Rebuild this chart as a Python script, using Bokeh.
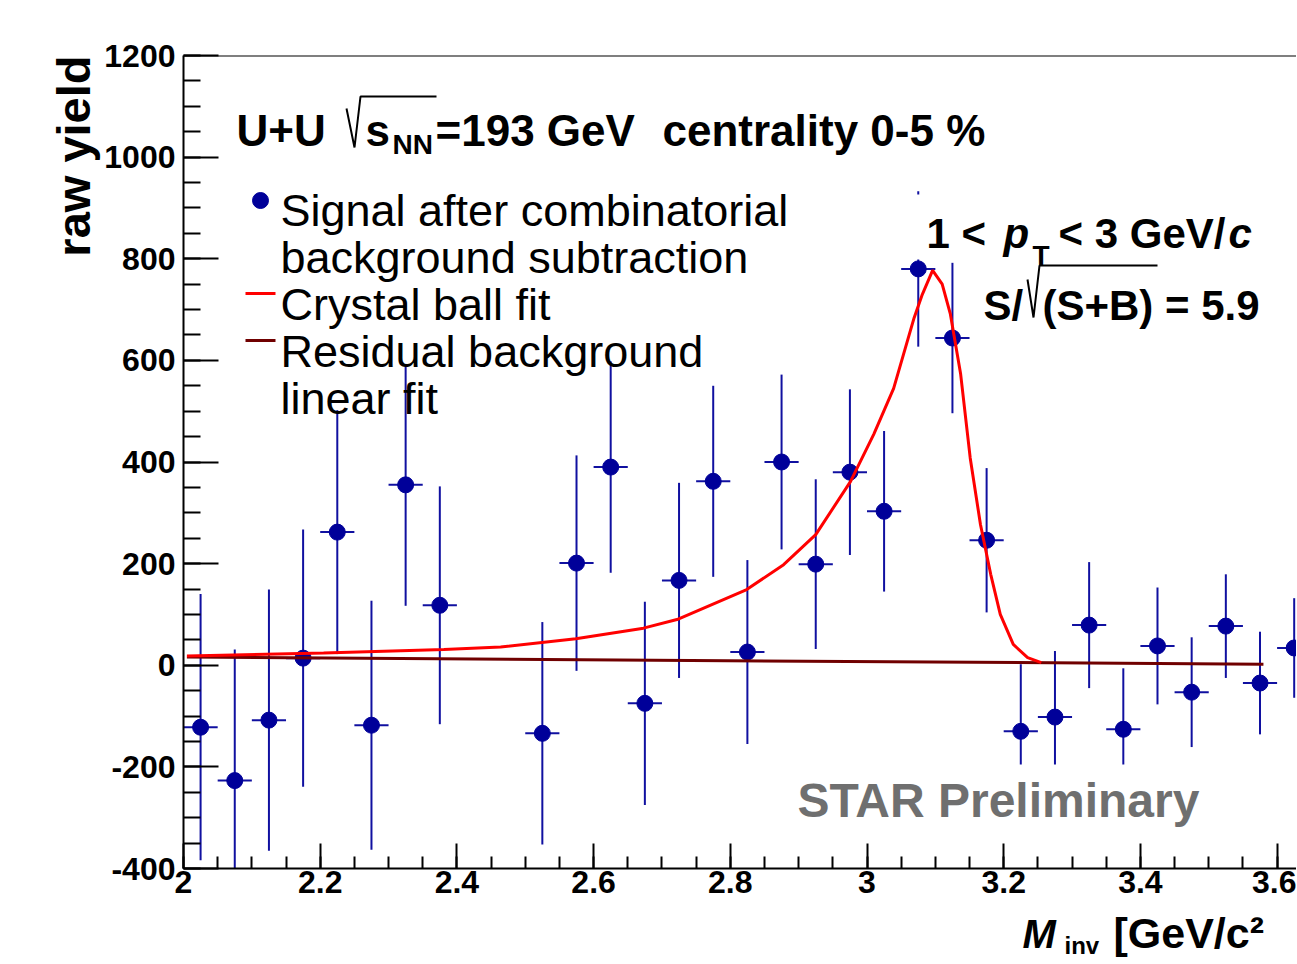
import math
from bokeh.plotting import figure
from bokeh.models import (Label, Span, BoxAnnotation, PolyAnnotation,
                          SingleIntervalTicker, NumeralTickFormatter,
                          ColumnDataSource, Title)
from bokeh.embed import file_html
from bokeh.resources import INLINE

# ---------------- data ----------------
mass = [2.025, 2.075, 2.125, 2.175, 2.225, 2.275, 2.325, 2.375, 2.525, 2.575,
        2.625, 2.675, 2.725, 2.775, 2.825, 2.875, 2.925, 2.975, 3.025, 3.075,
        3.125, 3.175, 3.225, 3.275, 3.325, 3.375, 3.425, 3.475, 3.525, 3.575,
        3.625]
raw_yield = [-122, -227, -108, 14, 262, -118, 355, 118, -134, 201,
             390, -75, 167, 362, 26, 400, 199, 380, 303, 780,
             644, 246, -130, -102, 79, -126, 38, -53, 77, -35,
             34]
yield_err = [262, 258, 257, 253, 240, 245, 238, 234, 219, 212,
             208, 200, 192, 188, 181, 172, 167, 163, 158, 153,
             148, 142, 132, 130, 124, 120, 115, 108, 102, 101,
             98]
bin_half_width = 0.025

cb_fit_mass = [2.005, 2.205, 2.381, 2.464, 2.574, 2.673, 2.722, 2.824, 2.878,
               2.925, 2.976, 3.010, 3.039, 3.069, 3.081, 3.096, 3.110, 3.122,
               3.137, 3.151, 3.166, 3.181, 3.195, 3.214, 3.235, 3.255]
cb_fit_yield = [18, 24, 31, 36, 52, 73, 90, 149, 198,
                257, 362, 455, 545, 684, 730, 777, 750, 691,
                573, 408, 277, 179, 100, 41, 15, 5]

bkg_fit_mass = [2.005, 3.58]
bkg_fit_yield = [16, 2]

x_tick_step = 0.2
y_tick_step = 200

# ---------------- layout ----------------
W, H = 1296, 963
Y0, Y1 = -400, 1200
X0 = 2.0
BL, BR, BT = 183, 0, 55
FRAME_BOTTOM = 868
BB = H - FRAME_BOTTOM
PX_PER_UNIT = 683.5
X1 = X0 + (W - BR - BL) / PX_PER_UNIT
FL, FR = BL, W - BR
FT, FB = BT, FRAME_BOTTOM


def dx(px):
    return X0 + (px - FL) / (FR - FL) * (X1 - X0)


def dy(py):
    return Y1 - (py - FT) / (FB - FT) * (Y1 - Y0)


p = figure(width=W, height=H, x_range=(X0, X1), y_range=(Y0, Y1),
           output_backend="svg", toolbar_location=None,
           min_border_left=BL, min_border_right=BR,
           min_border_top=BT, min_border_bottom=BB,
           outline_line_color=None, background_fill_color="white",
           border_fill_color="white")
p.grid.visible = False

FONT = "Liberation Sans"
for ax in (p.xaxis[0], p.yaxis[0]):
    ax.axis_line_width = 2
    ax.axis_line_color = "black"
    ax.major_tick_line_width = 2
    ax.minor_tick_line_width = 2
    ax.major_tick_out = 0
    ax.minor_tick_out = 0
    ax.major_label_text_font = FONT
    ax.major_label_text_font_style = "bold"
    ax.major_label_text_font_size = "32px"
    ax.major_label_text_color = "black"

xa = p.xaxis[0]
xa.ticker = SingleIntervalTicker(interval=x_tick_step, num_minor_ticks=4)
xa.formatter = NumeralTickFormatter(format="0.[0]")
xa.major_tick_in = 25
xa.minor_tick_in = 12
xa.major_label_standoff = 2

ya = p.yaxis[0]
ya.ticker = SingleIntervalTicker(interval=y_tick_step, num_minor_ticks=4)
ya.formatter = NumeralTickFormatter(format="0")
ya.major_tick_in = 35
ya.minor_tick_in = 17
ya.major_label_standoff = 8

p.add_layout(Span(location=Y1, dimension="width", line_color="black",
                  line_width=2, line_alpha=1.0))

# y axis title
p.add_layout(Title(text="raw yield", align="right", text_font=FONT,
                   text_font_size="47px", text_font_style="bold",
                   text_color="black", standoff=4), "left")

# ---------------- data glyphs ----------------
src = ColumnDataSource(dict(
    x=mass, y=raw_yield,
    lo=[v - e for v, e in zip(raw_yield, yield_err)],
    hi=[v + e for v, e in zip(raw_yield, yield_err)],
    xl=[m - bin_half_width for m in mass],
    xr=[m + bin_half_width for m in mass],
))
BLUE = "#000099"
p.segment(x0="x", y0="lo", x1="x", y1="hi", source=src, line_color="#1010a0", line_width=2)
p.segment(x0="xl", y0="y", x1="xr", y1="y", source=src, line_color="#1010a0", line_width=2)
p.scatter(x="x", y="y", source=src, size=16, fill_color=BLUE, line_color=BLUE, marker="circle")

p.line(bkg_fit_mass, bkg_fit_yield, line_color="#700000", line_width=3)
p.line(cb_fit_mass, cb_fit_yield, line_color="#ff0000", line_width=3)


# ---------------- white boxes behind texts ----------------
def box(l, r, t, b, color="white"):
    p.add_layout(BoxAnnotation(left=dx(l), right=dx(r), top=dy(t), bottom=dy(b),
                               fill_color=color, fill_alpha=1.0, line_color=None,
                               line_alpha=0))


box(912, 1265, 194, 259)
box(795, 1210, 764, 808)


def radical(pts):
    # drawn out and back so that the closing edge of the polygon is invisible
    path = pts + pts[-2::-1]
    p.add_layout(PolyAnnotation(xs=[dx(a) for a, _ in path], ys=[dy(b) for _, b in path],
                                fill_alpha=0, line_color="black", line_alpha=1.0,
                                line_width=2))


def mk(text, px, py, size, style="bold", color="black", font=FONT):
    return Label(x=dx(px), y=dy(py), text=text, text_font=font,
                 text_font_size=f"{size}px", text_font_style=style,
                 text_color=color, text_align="left",
                 text_baseline="alphabetic")


def lab(*a, **k):
    p.add_layout(mk(*a, **k))


# title line
lab("U+U", 236, 130, 44)
radical([(346, 108), (354, 147), (360, 96), (436, 96)])
lab("s", 365, 130, 44)
lab("NN", 392, 144, 28)
lab("=193 GeV", 435, 130, 44)
lab("centrality 0-5 %", 662, 130, 44)

# legend
p.scatter([dx(260)], [dy(200)], size=16, fill_color=BLUE, line_color=BLUE, marker="circle")
p.segment(x0=[dx(245)], y0=[dy(293)], x1=[dx(275)], y1=[dy(293)], line_color="#ff0000", line_width=3)
p.segment(x0=[dx(245)], y0=[dy(340)], x1=[dx(275)], y1=[dy(340)], line_color="#700000", line_width=3)
lab("Signal after combinatorial", 280, 210, 45, style="normal")
lab("background subtraction", 280, 257, 45, style="normal")
lab("Crystal ball fit", 280, 304, 45, style="normal")
lab("Residual background", 280, 351, 45, style="normal")
lab("linear fit", 280, 398, 45, style="normal")

# significance and pT range (upright pieces first, italic pieces last)
lab("S/", 983, 305, 42)
radical([(1027, 279), (1033, 317), (1039, 265), (1157, 265)])
lab("(S+B) = 5.9", 1042, 305, 42)
lab("STAR Preliminary", 797, 800, 48, color="#6f6f6f")
lab("1 <", 926, 233, 42)
lab("T", 1032, 255, 28)
lab("< 3 GeV/", 1058, 233, 42)
lab("p", 1003, 233, 42, style="bold italic")
lab("c", 1228, 233, 42, style="bold italic")

# x axis title: pieces spread over the side panels so the frame keeps its size
# (labels in side panels are centred vertically on their y position)
p.add_layout(mk("[GeV/c\u00b2", 1113, 932, 43), "below")
p.add_layout(mk("inv", 1064, 945, 24), "left")
p.add_layout(mk("M", 1022, 933, 40, style="bold italic"), "above")

open("out.html", "w").write(file_html(p, INLINE))
